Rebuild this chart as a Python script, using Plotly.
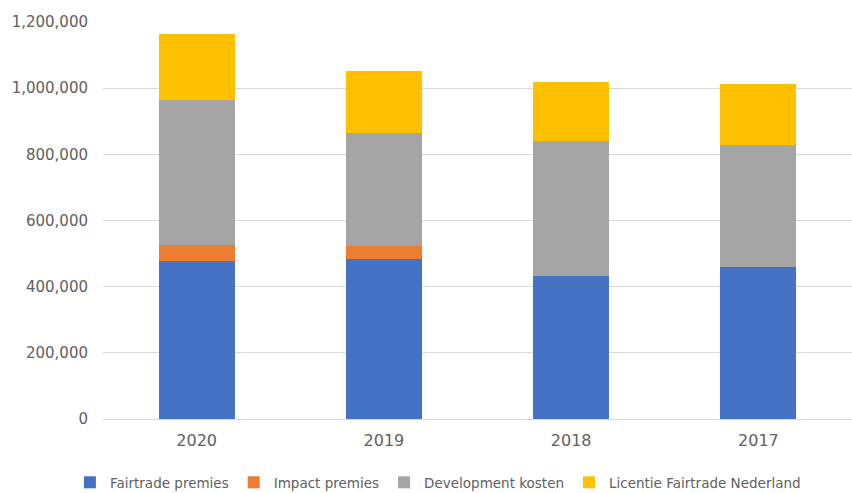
import plotly.graph_objects as go

years = ["2020", "2019", "2018", "2017"]
fairtrade_premies = [479000, 485000, 433000, 460000]
impact_premies = [48000, 39000, 0, 0]
development_kosten = [438000, 340000, 406000, 369000]
licentie_fairtrade_nl = [200000, 188000, 179000, 183000]

series = [
    ("Fairtrade premies", fairtrade_premies, "#4472C4"),
    ("Impact premies", impact_premies, "#ED7D31"),
    ("Development kosten", development_kosten, "#A5A5A5"),
    ("Licentie Fairtrade Nederland", licentie_fairtrade_nl, "#FFC000"),
]

fig = go.Figure()
for name, vals, col in series:
    fig.add_trace(go.Bar(name=name, x=years, y=vals, marker_color=col,
                         marker_line_width=0))

font = dict(family="DejaVu Sans, sans-serif", size=14, color="#606060")
fig.update_layout(
    barmode="stack",
    width=852, height=493,
    margin=dict(l=103, r=0, t=22, b=74, autoexpand=False),
    paper_bgcolor="white", plot_bgcolor="white",
    font=font,
    bargap=0.595,
    showlegend=True,
    legend=dict(orientation="h", xref="container", x=0.514, xanchor="center",
                y=-0.16, yanchor="middle", font=dict(size=13.5, color="#606060"),
                itemwidth=30, traceorder="normal"),
)
fig.update_yaxes(range=[0, 1200000], dtick=200000, tickformat=",",
                 gridcolor="#D9D9D9", gridwidth=1, zeroline=True,
                 zerolinecolor="#D9D9D9", zerolinewidth=1,
                 showline=False, ticklabelstandoff=14,
                 tickfont=dict(size=15))
fig.update_xaxes(showline=False, ticklabelstandoff=10,
                 tickfont=dict(size=16))

fig.write_html("out.html", config={"displayModeBar": False},
               post_script="document.body.style.margin='0';")
